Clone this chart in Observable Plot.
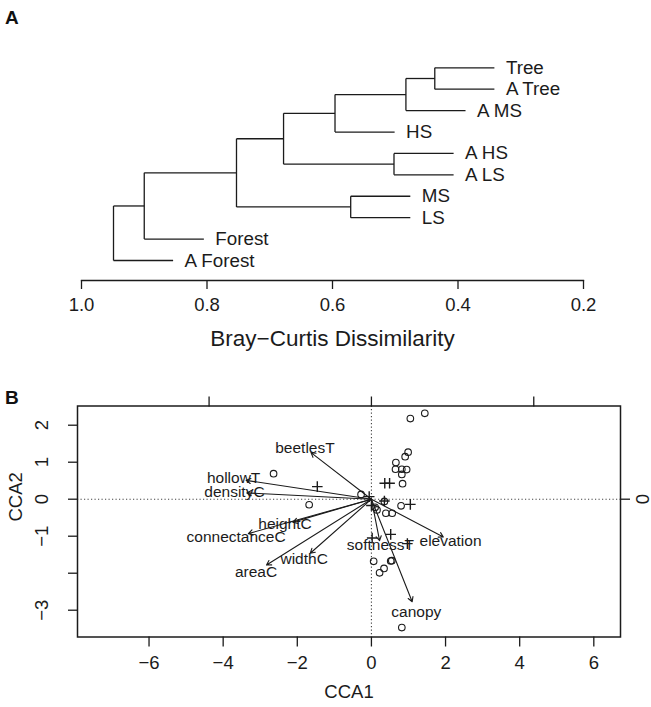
<!DOCTYPE html>
<html><head><meta charset="utf-8">
<script src="https://cdn.jsdelivr.net/npm/d3@7"></script>
<script src="https://cdn.jsdelivr.net/npm/@observablehq/plot@0.6"></script>
<style>
body{margin:0;background:#fff;font-family:"Liberation Sans",Arial,Helvetica,sans-serif;}
#wrap{position:relative;width:651px;height:707px;overflow:hidden;}
#wrap svg{display:block;}
.tag{position:absolute;left:5px;font-weight:bold;font-size:19px;line-height:19px;color:#111;}
</style></head><body>
<div id="wrap"></div>
<script>
// ---------- Panel A: dendrogram (Bray–Curtis) ----------
const leafLabels = ["Tree","A Tree","A MS","HS","A HS","A LS","MS","LS","Forest","A Forest"];
// hclust-style merges: negative = leaf (1-based), positive = earlier merge
const mergeA = [-1,1,2,-5,3,-7,5,7,8];
const mergeB = [-2,-3,-4,-6,4,-8,6,-9,-10];
const mergeHeight = [0.437,0.483,0.596,0.502,0.678,0.571,0.753,0.900,0.949];
const hang = 0.095;
const distTicks = [1.0,0.8,0.6,0.4,0.2];
const distLabel = "Bray\u2212Curtis Dissimilarity";

// ---------- Panel B: CCA biplot ----------
const siteX = [1.44,1.05,0.99,0.91,0.66,0.65,0.82,0.95,0.82,0.84,-2.64,-1.68,-0.28,0.35,0.80,0.56,0.39,0.15,0.06,0.52,0.55,0.34,0.22,0.82,0.10];
const siteY = [2.32,2.18,1.27,1.15,0.99,0.81,0.81,0.80,0.67,0.42,0.69,-0.15,0.13,-0.06,-0.18,-0.38,-0.38,-0.29,-1.68,-1.67,-1.66,-1.87,-1.99,-3.47,-0.22];
const crossX = [-1.46,0.36,0.49,1.05,0.52,0.02,0.97,0.35,-0.06,0.00];
const crossY = [0.34,0.43,0.43,-0.14,-0.95,-1.05,-1.20,-0.05,0.07,-0.17];
const envNames = ["beetlesT","hollowT","densityC","heightC","connectanceC","widthC","areaC","elevation","softnessT","canopy"];
const envX = [-1.63,-3.38,-3.36,-2.12,-3.32,-1.65,-2.83,1.94,0.22,1.10];
const envY = [1.26,0.51,0.17,-0.62,-0.93,-1.46,-1.78,-1.02,-1.12,-2.77];
const cca1Ticks = [-6,-4,-2,0,2,4,6];
const cca2Ticks = [2,1,0,-1,-2,-3];
const cca2Labels = ["2","1","0","\u22121","","\u22123"];
const topTicks = [-4.38,0,4.38];
const rightTicks = [0];
const rightLabels = ["0"];

const FONT = '"Liberation Sans", Arial, Helvetica, sans-serif';
const INK = "#1b1b1b";

// build dendrogram segments
const nodes = [];
const segs = [];
const leaves = [];
function child(c){
  if (c < 0) return {leaf:true, idx:-c-1, y:-c-1};
  return {leaf:false, y:nodes[c-1].y, h:nodes[c-1].h};
}
mergeHeight.forEach((h,i) => {
  const ca = child(mergeA[i]), cb = child(mergeB[i]);
  segs.push({x1:h, x2:h, y1:ca.y, y2:cb.y});
  for (const c of [ca,cb]) {
    const xEnd = c.leaf ? h - hang : c.h;
    segs.push({x1:h, x2:xEnd, y1:c.y, y2:c.y});
    if (c.leaf) leaves.push({label:leafLabels[c.idx], x:xEnd, y:c.y});
  }
  nodes.push({y:(ca.y+cb.y)/2, h});
});

const plotA = Plot.plot({
  width:651, height:360,
  marginLeft:81, marginRight:68, marginTop:67.3, marginBottom:80,
  x:{domain:[1,0.2]},
  y:{domain:[0,9.934], reverse:true, axis:null},
  style:{fontFamily:FONT, fontSize:"18.5px", color:INK, background:"white", overflow:"visible"},
  marks:[
    Plot.link(segs, {x1:"x1", y1:"y1", x2:"x2", y2:"y2", stroke:INK, strokeWidth:1.3}),
    Plot.text(leaves, {x:"x", y:"y", text:"label", textAnchor:"start", dx:11.5, lineAnchor:"middle", fontSize:18.8, fill:INK}),
    Plot.frame({anchor:"bottom", stroke:INK, strokeWidth:1.3}),
    Plot.axisX({ticks:distTicks, tickFormat:d3.format(".1f"), tickSize:9, tickPadding:8.7, label:null, stroke:INK, strokeWidth:1.3}),
    Plot.text([distLabel], {frameAnchor:"bottom", dy:58, lineAnchor:"middle", fontSize:22.5, fill:INK})
  ]
});

const sites = siteX.map((x,i)=>({x, y:siteY[i]}));
const crosses = crossX.map((x,i)=>({x, y:crossY[i]}));
const env = envNames.map((name,i)=>({name, x:envX[i], y:envY[i]}));

const plotB = Plot.plot({
  width:651, height:347,
  marginLeft:77, marginRight:31, marginTop:45.5, marginBottom:70.5,
  x:{domain:[-7.93,6.72]},
  y:{domain:[-3.724,2.519]},
  style:{fontFamily:FONT, fontSize:"18.5px", color:INK, background:"white", overflow:"visible"},
  marks:[
    Plot.ruleX([0], {stroke:"#444", strokeWidth:1.1, strokeDasharray:"1.2,2.3"}),
    Plot.ruleY([0], {stroke:"#444", strokeWidth:1.1, strokeDasharray:"1.2,2.3"}),
    Plot.frame({stroke:INK, strokeWidth:1.5}),
    Plot.axisX({ticks:cca1Ticks, tickSize:10, tickPadding:9, label:null, stroke:INK, strokeWidth:1.3}),
    Plot.axisX({anchor:"top", ticks:topTicks, tickSize:10, tickFormat:()=>"", label:null, stroke:INK, strokeWidth:1.3}),
    Plot.axisY({ticks:cca2Ticks, tickSize:9, tickFormat:()=>"", label:null, stroke:INK, strokeWidth:1.3}),
    Plot.text(cca2Ticks, {y:d=>d, text:(d,i)=>cca2Labels[i], frameAnchor:"left", dx:-35.3, rotate:-90, textAnchor:"middle", lineAnchor:"middle", fill:INK}),
    Plot.axisY({anchor:"right", ticks:rightTicks, tickSize:9, tickFormat:()=>"", label:null, stroke:INK, strokeWidth:1.3}),
    Plot.text(rightTicks, {y:d=>d, text:(d,i)=>rightLabels[i], frameAnchor:"right", dx:22.5, rotate:-90, textAnchor:"middle", lineAnchor:"middle", fill:INK}),
    Plot.text(["CCA1"], {frameAnchor:"bottom", dy:55, lineAnchor:"middle", fill:INK}),
    Plot.text(["CCA2"], {frameAnchor:"left", dx:-61.5, rotate:-90, lineAnchor:"middle", fill:INK}),
    Plot.arrow(env, {x1:()=>0, y1:()=>0, x2:"x", y2:"y", stroke:INK, strokeWidth:1.1, headLength:7, headAngle:60}),
    Plot.text(env, {x:d=>d.x*1.1, y:d=>d.y*1.1, text:"name", fontSize:15.5, fill:INK, lineAnchor:"middle"}),
    Plot.dot(sites, {x:"x", y:"y", r:3.3, stroke:INK, strokeWidth:1.1, fill:"none"}),
    Plot.dot(crosses, {x:"x", y:"y", symbol:"plus", r:3.5, stroke:INK, strokeWidth:1.4})
  ]
});

const wrap = document.getElementById("wrap");
wrap.appendChild(plotA);
wrap.appendChild(plotB);
const tA = document.createElement("div"); tA.className="tag"; tA.textContent="A"; tA.style.top="8px";
const tB = document.createElement("div"); tB.className="tag"; tB.textContent="B"; tB.style.top="388px";
wrap.appendChild(tA); wrap.appendChild(tB);
</script>
</body></html>
